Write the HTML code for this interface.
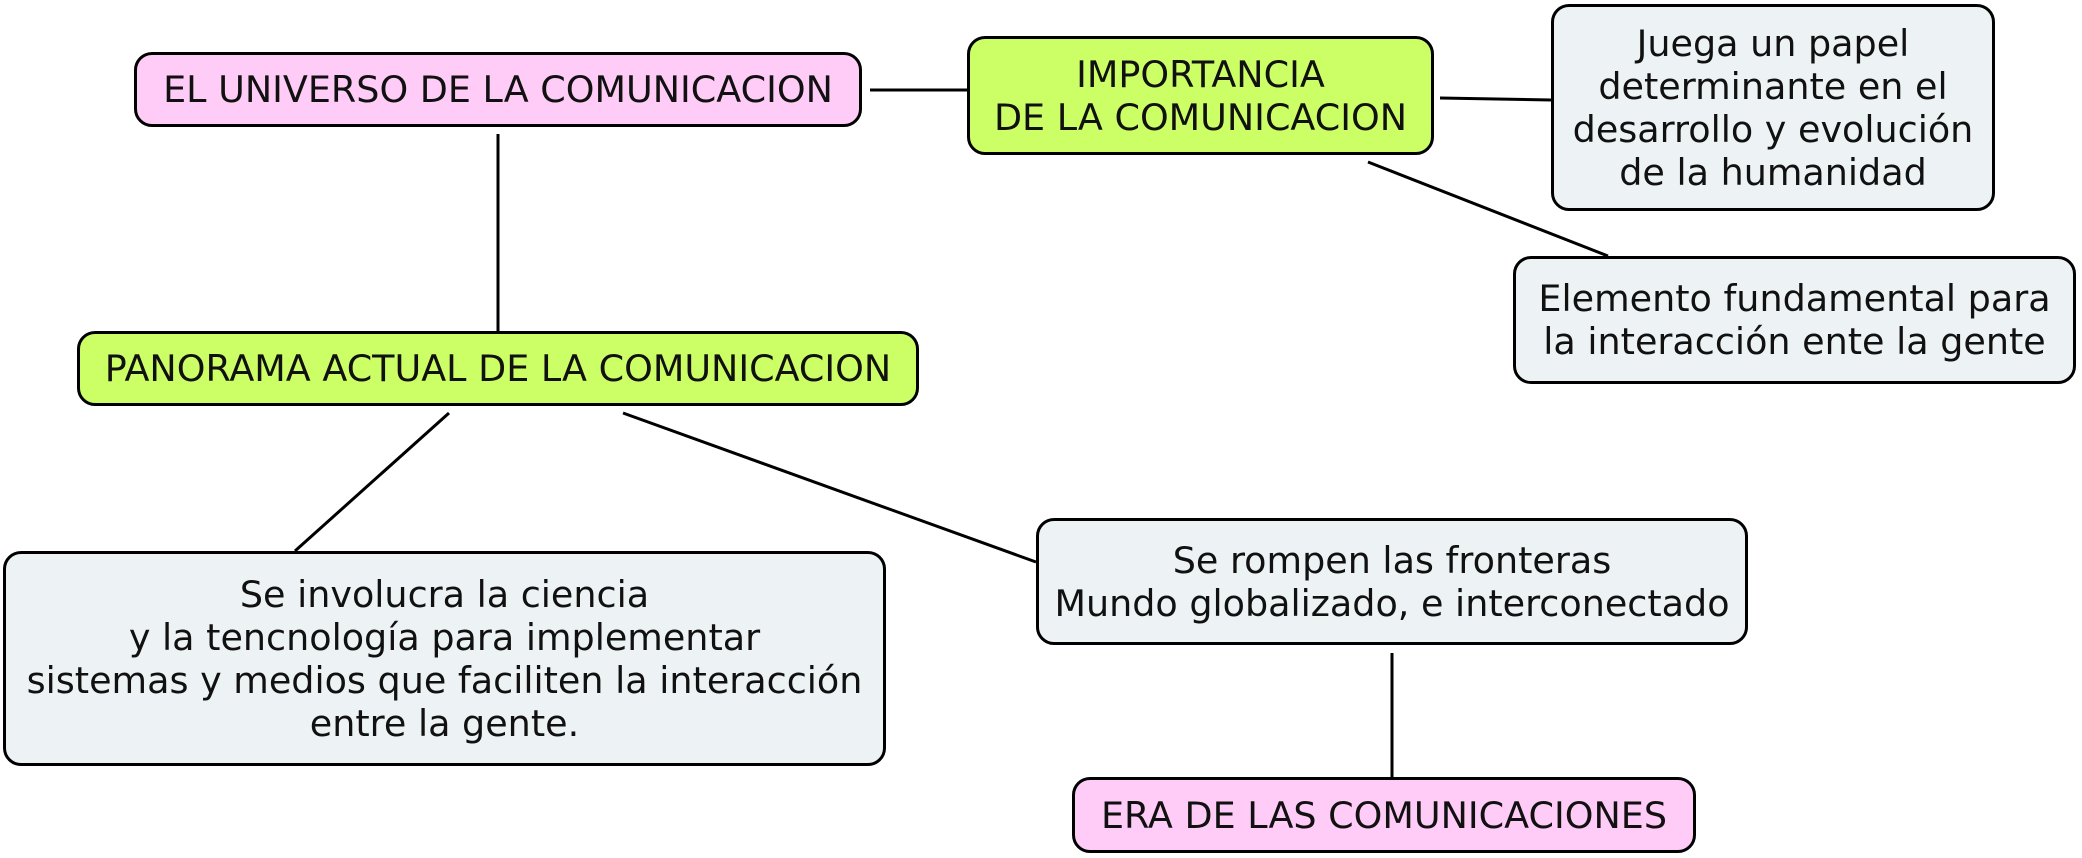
<!DOCTYPE html>
<html><head><meta charset="utf-8"><style>
body{margin:0;width:2082px;height:858px;background:#fff;position:relative;overflow:hidden;font-family:"DejaVu Sans","Liberation Sans",sans-serif;}
.b{position:absolute;box-sizing:border-box;border:3px solid #000;border-radius:18px;display:flex;align-items:center;justify-content:center;text-align:center;font-size:36.5px;line-height:43px;color:#111;white-space:nowrap;}
.p{background:#ffccf7}.g{background:#ccff66}.l{background:#edf3f5}
svg{position:absolute;left:0;top:0}
</style></head><body>
<svg width="2082" height="858"><g stroke="#000" stroke-width="3">
<line x1="870" y1="90" x2="967" y2="90"/>
<line x1="1440" y1="98" x2="1551" y2="100"/>
<line x1="1368" y1="162" x2="1608" y2="256"/>
<line x1="498" y1="134" x2="498" y2="331"/>
<line x1="449" y1="413" x2="295" y2="551"/>
<line x1="623" y1="413" x2="1036" y2="562"/>
<line x1="1392" y1="653" x2="1392" y2="777"/>
</g></svg>
<div class="b p" style="left:134px;top:52px;width:728px;height:75px">EL UNIVERSO DE LA COMUNICACION</div>
<div class="b g" style="left:967px;top:36px;width:467px;height:119px">IMPORTANCIA<br>DE LA COMUNICACION</div>
<div class="b l" style="left:1551px;top:4px;width:444px;height:207px">Juega un papel<br>determinante en el<br>desarrollo y evolución<br>de la humanidad</div>
<div class="b l" style="left:1513px;top:256px;width:563px;height:128px">Elemento fundamental para<br>la interacción ente la gente</div>
<div class="b g" style="left:77px;top:331px;width:842px;height:75px">PANORAMA ACTUAL DE LA COMUNICACION</div>
<div class="b l" style="left:3px;top:551px;width:883px;height:215px">Se involucra la ciencia<br>y la tencnología para implementar<br>sistemas y medios que faciliten la interacción<br>entre la gente.</div>
<div class="b l" style="left:1036px;top:518px;width:712px;height:127px">Se rompen las fronteras<br>Mundo globalizado, e interconectado</div>
<div class="b p" style="left:1072px;top:777px;width:624px;height:76px">ERA DE LAS COMUNICACIONES</div>
</body></html>
